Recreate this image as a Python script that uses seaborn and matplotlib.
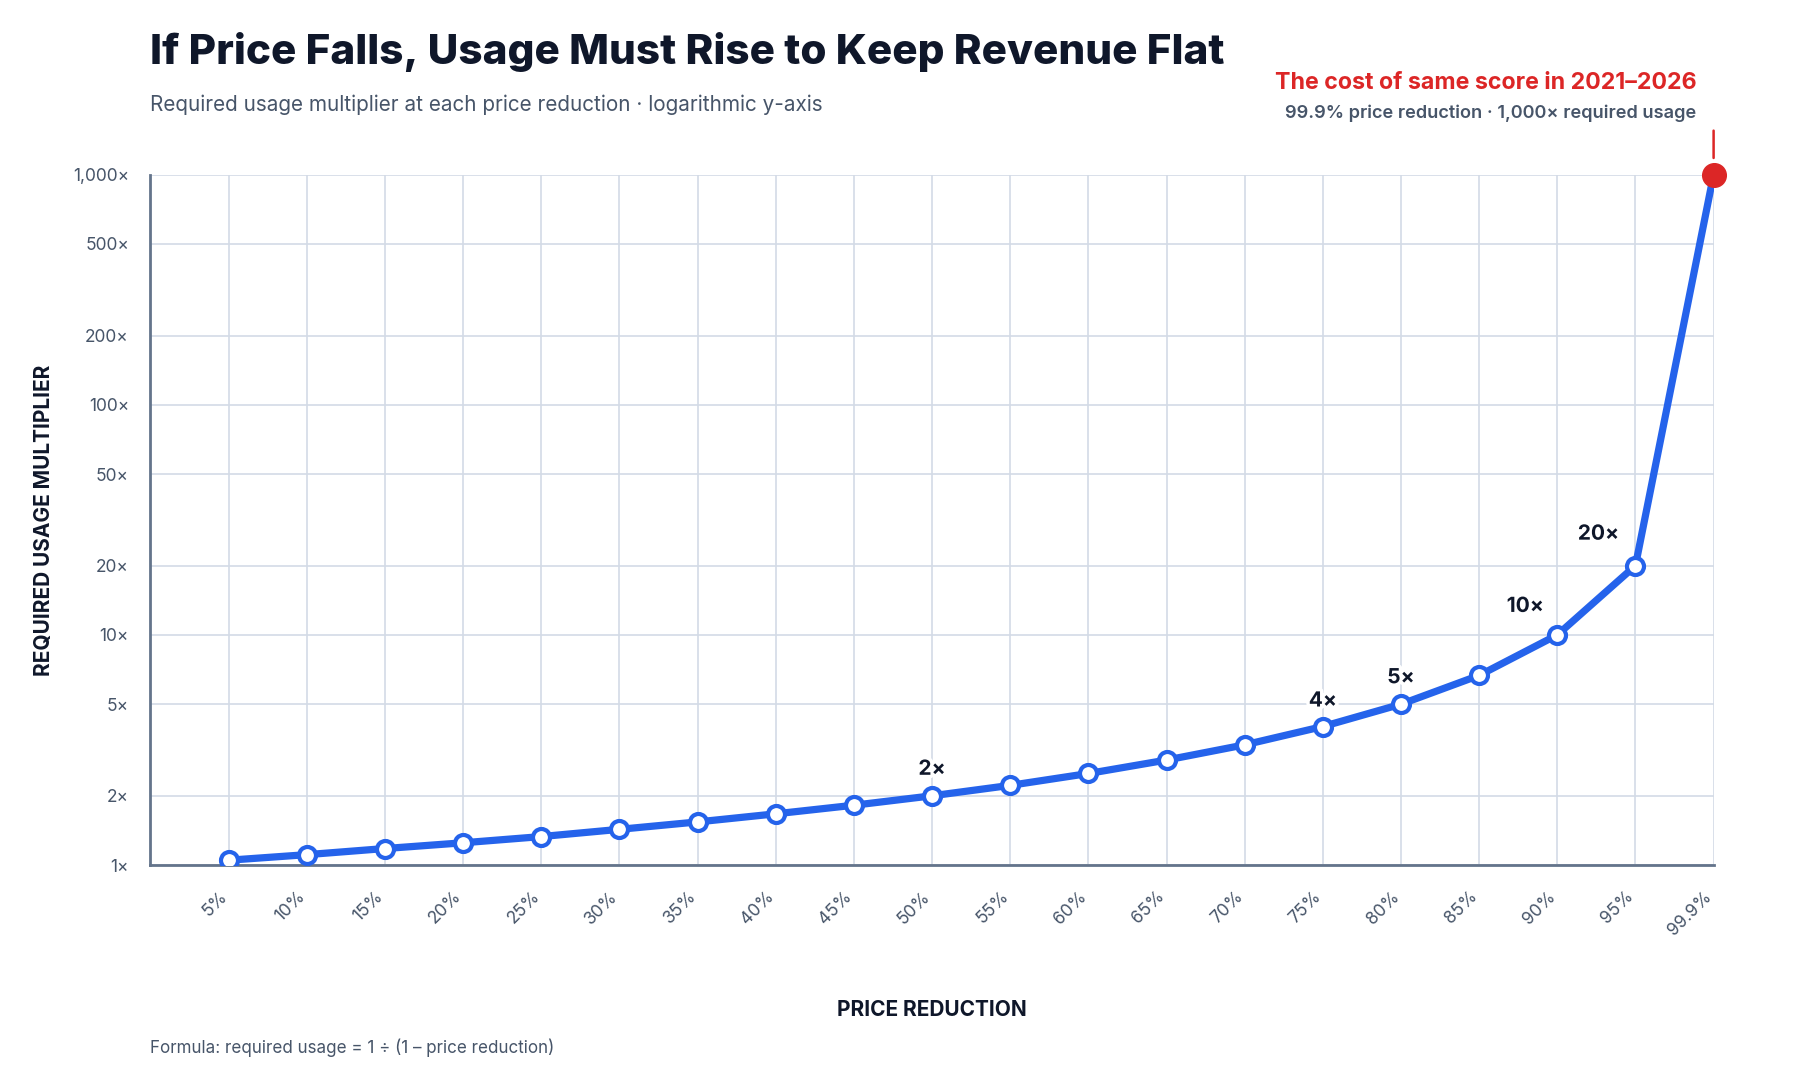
import matplotlib
matplotlib.use("Agg")
import matplotlib.pyplot as plt
import matplotlib.patheffects as pe
import matplotlib.transforms as mtransforms
import numpy as np
import pandas as pd
import seaborn as sns

# values
reduction_labels = ["5%", "10%", "15%", "20%", "25%", "30%", "35%", "40%", "45%", "50%",
                    "55%", "60%", "65%", "70%", "75%", "80%", "85%", "90%", "95%", "99.9%"]
usage_multiplier = [1.05, 1.11, 1.18, 1.25, 1.33, 1.43, 1.54, 1.67, 1.82, 2.0,
                    2.22, 2.5, 2.86, 3.33, 4.0, 5.0, 6.67, 10.0, 20.0, 1000.0]
callout_labels = {"50%": "2×", "75%": "4×", "80%": "5×", "90%": "10×", "95%": "20×"}
y_ticks = [1, 2, 5, 10, 20, 50, 100, 200, 500, 1000]
y_tick_labels = ["1×", "2×", "5×", "10×", "20×", "50×", "100×", "200×", "500×", "1,000×"]

# label offsets in pixels (dx, dy)
callout_offsets = {"50%": (0, 27), "75%": (0, 26), "80%": (0, 27),
                   "90%": (-32, 29), "95%": (-37, 32)}

BLUE = "#2563eb"
RED = "#dc2626"
INK = "#0f172a"
SLATE = "#475569"
GRID = "#d3dae6"
SPINE = "#64748b"

sns.set_theme(style="white")
plt.rcParams["font.family"] = ["Inter", "DejaVu Sans"]

df = pd.DataFrame({"pos": np.arange(len(reduction_labels)),
                   "label": reduction_labels,
                   "usage": usage_multiplier})

fig = plt.figure(figsize=(18, 10.8), dpi=100)
ax = fig.add_axes([0.0836, 0.199, 0.8684, 0.6393])

main = df.iloc[:-1]
sns.lineplot(data=df, x="pos", y="usage", ax=ax, color=BLUE, linewidth=5.2,
             zorder=3, legend=False)
ax.scatter(main["pos"], main["usage"], s=150, facecolor="white", edgecolor=BLUE,
           linewidth=3, zorder=4)
last = df.iloc[-1]
ax.scatter([last["pos"]], [last["usage"]], s=290, color=RED, zorder=5, clip_on=False)

ax.set_yscale("log")
ax.set_ylim(1, 1000)
ax.set_xlim(-1, len(reduction_labels) - 1)
ax.set_yticks(y_ticks)
ax.set_yticklabels(y_tick_labels)
ax.minorticks_off()
ax.set_xticks(df["pos"])
ax.set_xticklabels(reduction_labels, rotation=45, ha="right", rotation_mode="anchor")
ax.tick_params(axis="x", length=0, pad=18, labelsize=12.5, labelcolor=SLATE)
ax.tick_params(axis="y", length=0, pad=15.5, labelsize=12.5, labelcolor=SLATE)
shift = mtransforms.ScaledTranslation(-10 / 100, 2 / 100, fig.dpi_scale_trans)
for lbl in ax.get_xticklabels():
    lbl.set_transform(lbl.get_transform() + shift)

ax.grid(True, color=GRID, linewidth=1.2, zorder=0)
ax.set_axisbelow(True)
for s in ["top", "right"]:
    ax.spines[s].set_visible(False)
for s in ["left", "bottom"]:
    ax.spines[s].set_color(SPINE)
    ax.spines[s].set_linewidth(2)

ax.set_xlabel("PRICE REDUCTION", fontsize=15, fontweight="bold", color=INK)
ax.set_ylabel("REQUIRED USAGE MULTIPLIER", fontsize=15, fontweight="bold", color=INK)
ax.xaxis.set_label_coords(0.5, -0.195)
ax.yaxis.set_label_coords(-0.0616, 0.5)

# callout labels above selected points
for _, row in df.iterrows():
    if row["label"] in callout_labels:
        dx, dy = callout_offsets[row["label"]]
        ax.annotate(callout_labels[row["label"]], (row["pos"], row["usage"]),
                    xytext=(dx, dy), textcoords="offset pixels",
                    ha="center", va="center", fontsize=15, fontweight="bold", color=INK,
                    path_effects=[pe.withStroke(linewidth=5, foreground="white")], zorder=6)

# red marker line and note for the last point
ax.annotate("", xy=(last["pos"], last["usage"]), xytext=(0, 44),
            textcoords="offset pixels",
            arrowprops=dict(arrowstyle="-", color=RED, lw=1.8, shrinkA=0, shrinkB=12))

fig.text(0.9426, 0.923, "The cost of same score in 2021–2026", ha="right", va="center",
         fontsize=16.7, fontweight="bold", color=RED)
fig.text(0.9426, 0.8947, "99.9% price reduction · 1,000× required usage", ha="right",
         va="center", fontsize=13.1, fontweight="semibold", color=SLATE)

fig.text(0.0836, 0.952, "If Price Falls, Usage Must Rise to Keep Revenue Flat",
         ha="left", va="center", fontsize=30.4, fontweight="heavy", color=INK)
fig.text(0.0836, 0.903, "Required usage multiplier at each price reduction · logarithmic y-axis",
         ha="left", va="center", fontsize=14.9, color=SLATE)
fig.text(0.0836, 0.030, "Formula: required usage = 1 ÷ (1 – price reduction)",
         ha="left", va="center", fontsize=12.25, color=SLATE)

fig.savefig("out.png", dpi=100, facecolor="white")
